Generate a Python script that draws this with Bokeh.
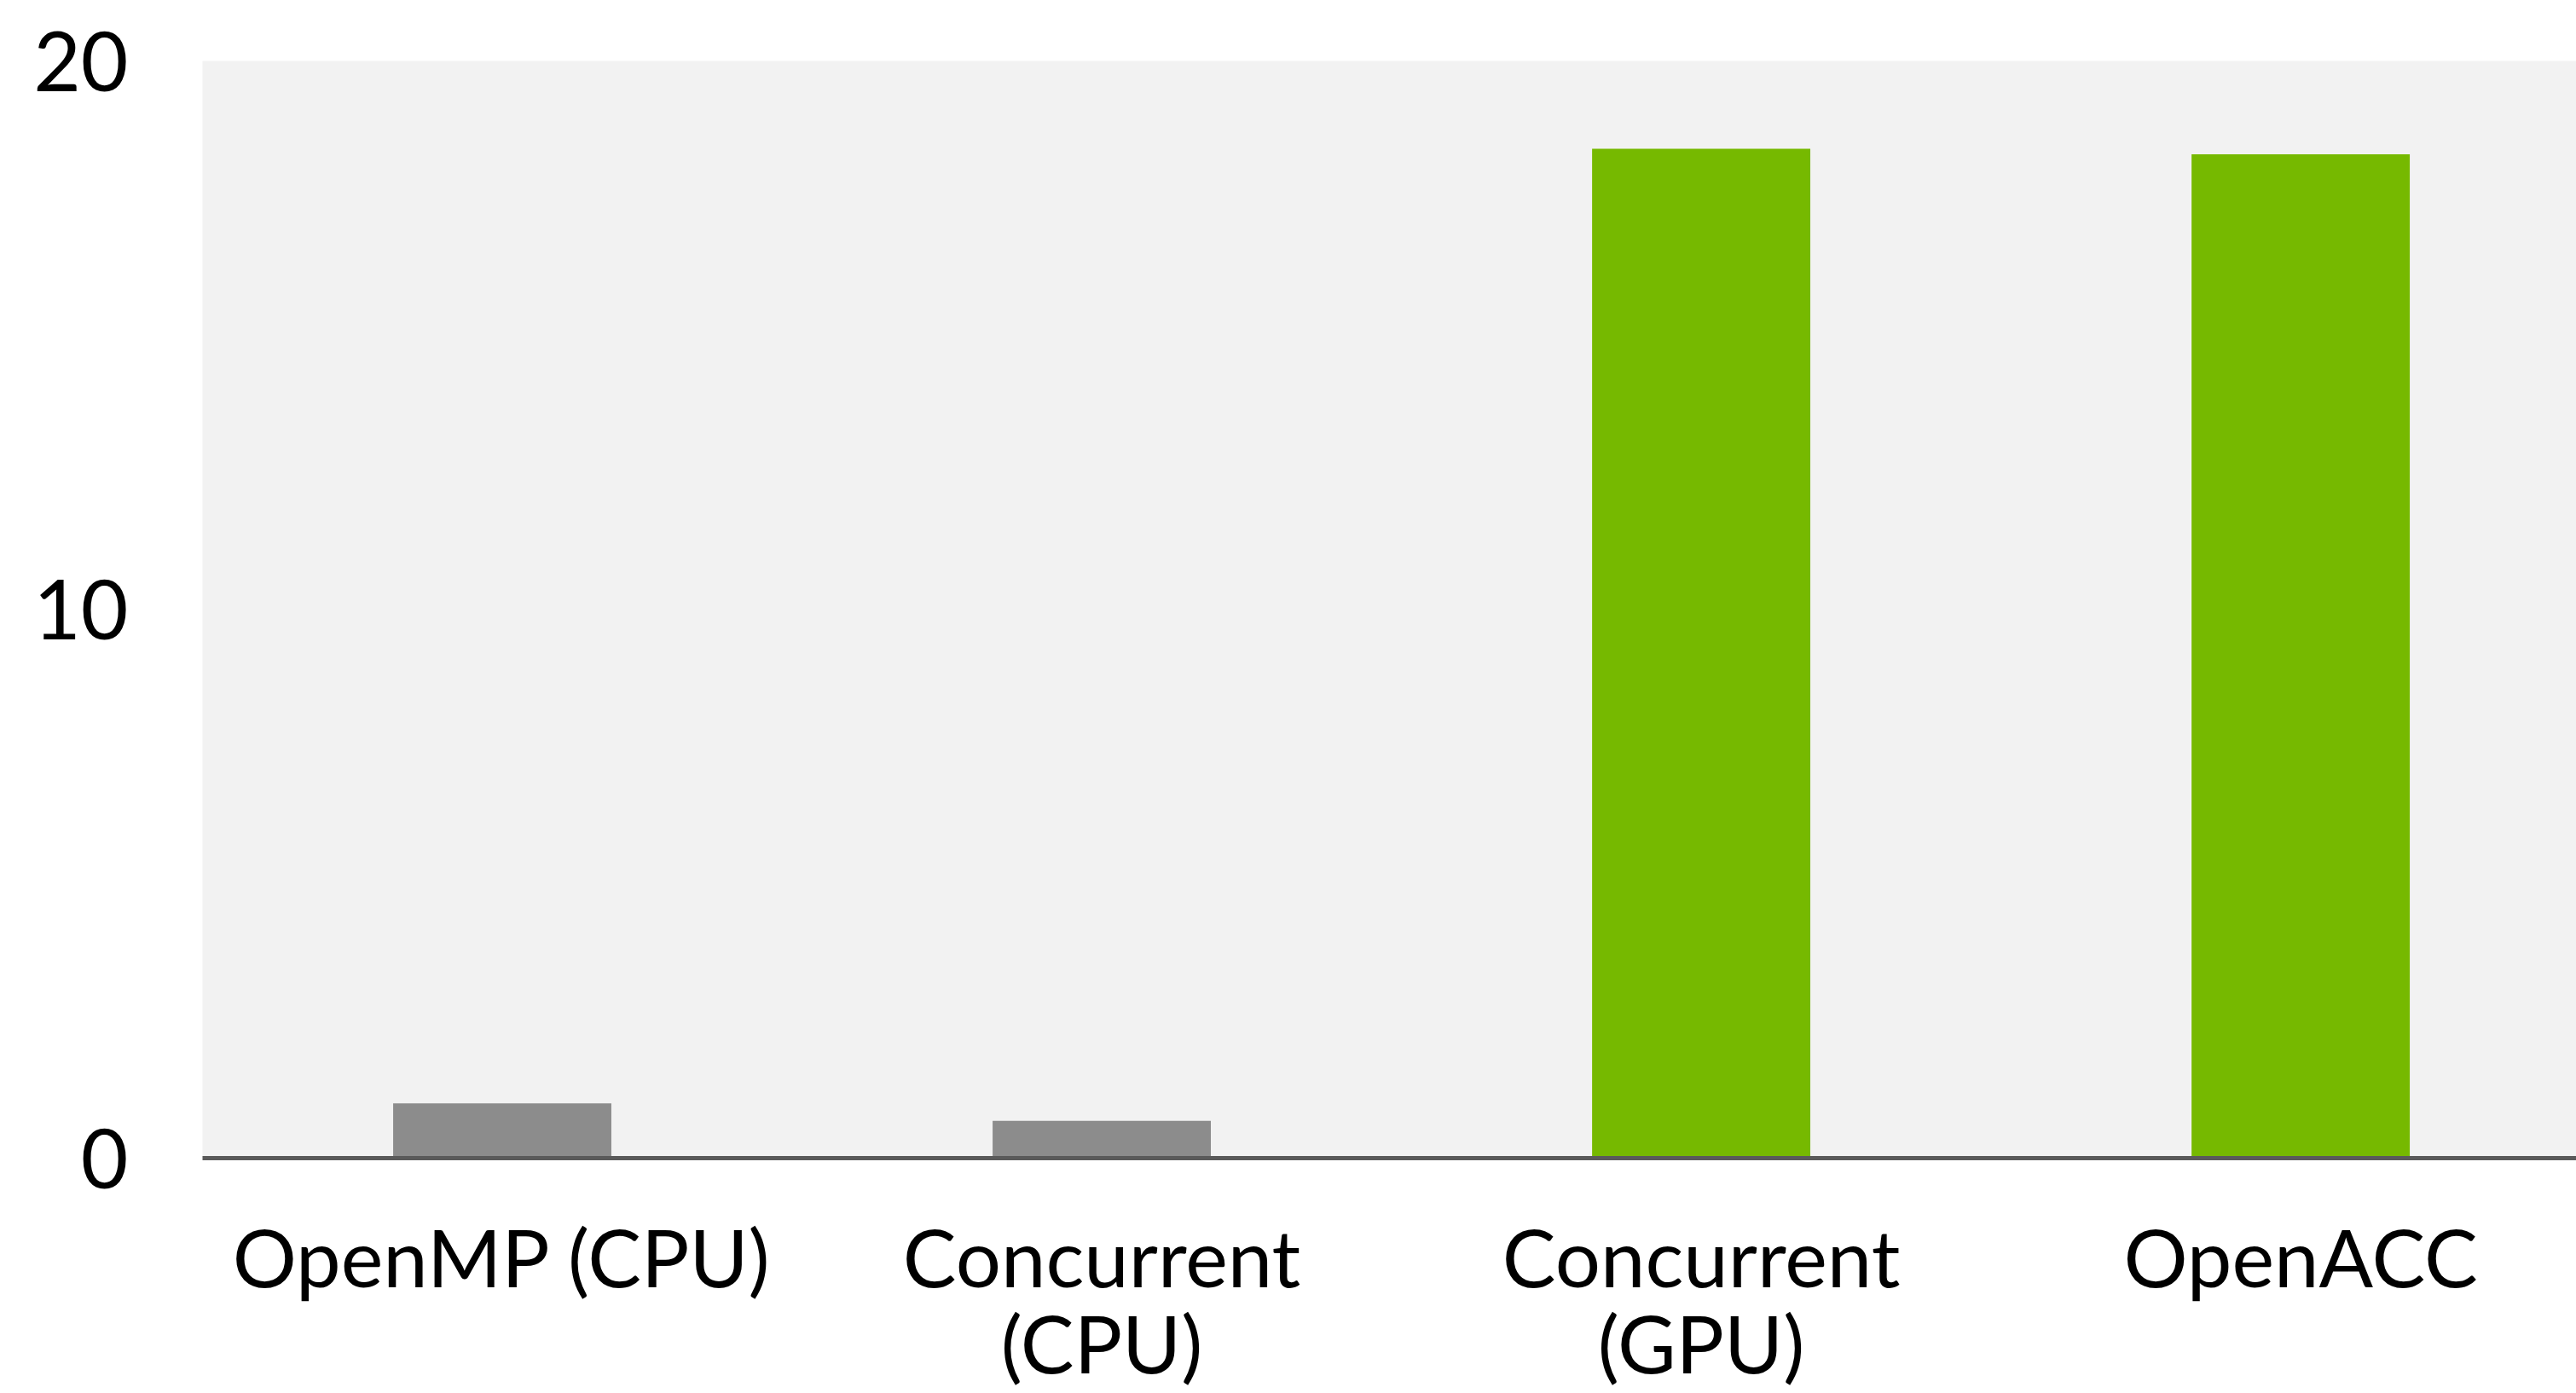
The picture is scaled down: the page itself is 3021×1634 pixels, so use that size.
from bokeh.plotting import figure
from bokeh.models import Range1d, FixedTicker
from bokeh.embed import file_html
from bokeh.resources import INLINE

categories = ["OpenMP (CPU)", "Concurrent\n(CPU)", "Concurrent\n(GPU)", "OpenACC"]
speedup = [1.0, 0.68, 18.4, 18.3]
bar_colors = ["#8c8c8c", "#8c8c8c", "#76b900", "#76b900"]
y_ticks = [0, 10, 20]

positions = list(range(len(categories)))

p = figure(width=3021, height=1634, output_backend="svg", toolbar_location=None,
           x_range=Range1d(-0.5, 3.46), y_range=Range1d(0, 20),
           min_border_top=71, min_border_left=237, min_border_right=0, min_border_bottom=274)

p.vbar(x=positions, top=speedup, width=0.364, color=bar_colors, line_color=None)

p.background_fill_color = "#f2f2f2"
p.border_fill_color = "white"
p.outline_line_color = None
p.xgrid.visible = False
p.ygrid.visible = False

font = "Lato"
fs = "94px"

p.xaxis.ticker = FixedTicker(ticks=positions)
p.xaxis.major_label_overrides = {i: c for i, c in zip(positions, categories)}
p.xaxis.axis_line_color = "#5a5a5a"
p.xaxis.axis_line_width = 5
p.xaxis.major_tick_line_color = None
p.xaxis.minor_tick_line_color = None
p.xaxis.major_tick_out = 0
p.xaxis.major_label_standoff = 58
p.xaxis.major_label_text_font = font
p.xaxis.major_label_text_font_size = fs
p.xaxis.major_label_text_line_height = 0.9
p.xaxis.major_label_text_color = "black"

p.yaxis.ticker = FixedTicker(ticks=y_ticks)
p.yaxis.axis_line_color = None
p.yaxis.major_tick_line_color = None
p.yaxis.minor_tick_line_color = None
p.yaxis.major_tick_out = 0
p.yaxis.major_label_standoff = 87
p.yaxis.major_label_text_font = font
p.yaxis.major_label_text_font_size = "96px"
p.yaxis.major_label_text_color = "black"

open("out.html", "w").write(file_html(p, INLINE))
